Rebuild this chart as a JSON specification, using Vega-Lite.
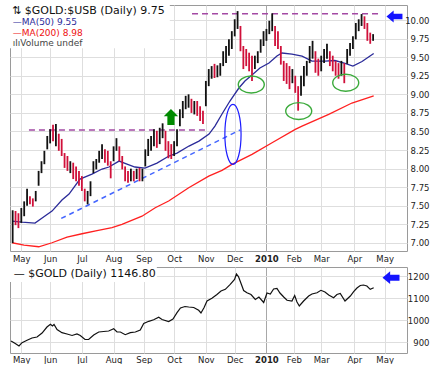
{
"$schema": "https://vega.github.io/schema/vega-lite/v6.json",
"padding": {"left": 8, "top": 4, "right": 0, "bottom": 0},
"background": "white",
"spacing": 3,
"config": {
 "view": {"stroke": "#9a9a9a", "strokeWidth": 1},
 "axis": {"labelFont": "DejaVu Sans", "labelFontSize": 8.5, "labelColor": "#222", "title": null, "ticks": false, "domain": false, "gridColor": "#dedede", "gridWidth": 1, "labelOverlap": false, "labelFlush": false}
},
"datasets": {
 "bars": [
  {"t":-6,"v":7.00,"v2":7.44,"dir":"up"},{"t":-4,"v":7.24,"v2":7.43,"dir":"down"},{"t":-2,"v":7.20,"v2":7.40,"dir":"down"},{"t":0,"v":7.27,"v2":7.47,"dir":"up"},{"t":2,"v":7.36,"v2":7.56,"dir":"up"},{"t":4,"v":7.50,"v2":7.73,"dir":"up"},{"t":6,"v":7.52,"v2":7.63,"dir":"down"},{"t":8,"v":7.49,"v2":7.60,"dir":"down"},{"t":10,"v":7.56,"v2":7.70,"dir":"up"},{"t":12,"v":7.77,"v2":7.97,"dir":"up"},
  {"t":14,"v":7.94,"v2":8.10,"dir":"up"},{"t":16,"v":8.06,"v2":8.24,"dir":"up"},{"t":18,"v":8.26,"v2":8.44,"dir":"up"},{"t":20,"v":8.34,"v2":8.53,"dir":"up"},{"t":22,"v":8.37,"v2":8.59,"dir":"down"},{"t":24,"v":8.30,"v2":8.60,"dir":"up"},{"t":26,"v":8.24,"v2":8.47,"dir":"down"},{"t":28,"v":8.17,"v2":8.40,"dir":"down"},{"t":30,"v":8.01,"v2":8.21,"dir":"down"},{"t":32,"v":7.97,"v2":8.17,"dir":"down"},
  {"t":34,"v":7.94,"v2":8.10,"dir":"up"},{"t":36,"v":7.86,"v2":8.08,"dir":"down"},{"t":38,"v":7.83,"v2":8.03,"dir":"down"},{"t":40,"v":7.77,"v2":7.97,"dir":"down"},{"t":42,"v":7.70,"v2":7.90,"dir":"down"},{"t":44,"v":7.56,"v2":7.73,"dir":"down"},{"t":46,"v":7.52,"v2":7.70,"dir":"up"},{"t":48,"v":7.63,"v2":7.83,"dir":"up"},{"t":50,"v":7.94,"v2":8.10,"dir":"up"},{"t":52,"v":7.99,"v2":8.13,"dir":"up"},
  {"t":54,"v":8.08,"v2":8.24,"dir":"up"},{"t":56,"v":8.13,"v2":8.33,"dir":"up"},{"t":58,"v":8.08,"v2":8.26,"dir":"down"},{"t":60,"v":8.04,"v2":8.24,"dir":"down"},{"t":62,"v":7.87,"v2":8.10,"dir":"down"},{"t":64,"v":8.10,"v2":8.30,"dir":"up"},{"t":66,"v":8.24,"v2":8.41,"dir":"up"},{"t":68,"v":8.10,"v2":8.30,"dir":"down"},{"t":70,"v":7.99,"v2":8.17,"dir":"down"},{"t":72,"v":7.83,"v2":8.03,"dir":"down"},
  {"t":74,"v":7.81,"v2":7.97,"dir":"down"},{"t":76,"v":7.83,"v2":8.00,"dir":"up"},{"t":78,"v":7.83,"v2":7.97,"dir":"down"},{"t":80,"v":7.86,"v2":8.00,"dir":"up"},{"t":82,"v":7.83,"v2":8.01,"dir":"down"},{"t":84,"v":7.83,"v2":8.00,"dir":"up"},{"t":86,"v":8.03,"v2":8.26,"dir":"up"},{"t":88,"v":8.17,"v2":8.40,"dir":"up"},{"t":90,"v":8.24,"v2":8.44,"dir":"up"},{"t":92,"v":8.30,"v2":8.53,"dir":"up"},
  {"t":94,"v":8.28,"v2":8.51,"dir":"down"},{"t":96,"v":8.33,"v2":8.55,"dir":"up"},{"t":98,"v":8.41,"v2":8.61,"dir":"up"},{"t":100,"v":8.24,"v2":8.51,"dir":"down"},{"t":102,"v":8.14,"v2":8.37,"dir":"down"},{"t":104,"v":8.13,"v2":8.33,"dir":"down"},{"t":106,"v":8.17,"v2":8.37,"dir":"up"},{"t":108,"v":8.30,"v2":8.53,"dir":"up"},{"t":110,"v":8.57,"v2":8.80,"dir":"up"},{"t":112,"v":8.68,"v2":8.91,"dir":"up"},
  {"t":114,"v":8.80,"v2":8.98,"dir":"up"},{"t":116,"v":8.82,"v2":9.00,"dir":"up"},{"t":118,"v":8.75,"v2":8.94,"dir":"down"},{"t":120,"v":8.73,"v2":8.91,"dir":"up"},{"t":122,"v":8.71,"v2":8.91,"dir":"down"},{"t":124,"v":8.64,"v2":8.84,"dir":"down"},{"t":126,"v":8.60,"v2":8.78,"dir":"down"},{"t":128,"v":8.84,"v2":9.18,"dir":"up"},{"t":130,"v":9.11,"v2":9.34,"dir":"up"},{"t":132,"v":9.21,"v2":9.38,"dir":"up"},
  {"t":134,"v":9.22,"v2":9.41,"dir":"down"},{"t":136,"v":9.23,"v2":9.39,"dir":"up"},{"t":138,"v":9.25,"v2":9.42,"dir":"up"},{"t":140,"v":9.38,"v2":9.58,"dir":"up"},{"t":142,"v":9.42,"v2":9.65,"dir":"up"},{"t":144,"v":9.52,"v2":9.74,"dir":"up"},{"t":146,"v":9.61,"v2":9.85,"dir":"up"},{"t":148,"v":9.78,"v2":10.01,"dir":"up"},{"t":150,"v":9.88,"v2":10.12,"dir":"up"},{"t":152,"v":9.58,"v2":9.92,"dir":"down"},
  {"t":154,"v":9.34,"v2":9.65,"dir":"down"},{"t":156,"v":9.38,"v2":9.61,"dir":"down"},{"t":158,"v":9.31,"v2":9.56,"dir":"down"},{"t":160,"v":9.18,"v2":9.52,"dir":"down"},{"t":162,"v":9.34,"v2":9.52,"dir":"up"},{"t":164,"v":9.42,"v2":9.58,"dir":"up"},{"t":166,"v":9.56,"v2":9.74,"dir":"up"},{"t":168,"v":9.65,"v2":9.85,"dir":"up"},{"t":170,"v":9.72,"v2":9.88,"dir":"up"},{"t":172,"v":9.81,"v2":9.99,"dir":"up"},
  {"t":174,"v":9.85,"v2":10.09,"dir":"up"},{"t":176,"v":9.65,"v2":9.92,"dir":"down"},{"t":178,"v":9.61,"v2":9.85,"dir":"down"},{"t":180,"v":9.40,"v2":9.65,"dir":"down"},{"t":182,"v":9.18,"v2":9.45,"dir":"down"},{"t":184,"v":9.14,"v2":9.42,"dir":"down"},{"t":186,"v":9.07,"v2":9.38,"dir":"down"},{"t":188,"v":9.15,"v2":9.34,"dir":"up"},{"t":190,"v":9.02,"v2":9.25,"dir":"down"},{"t":192,"v":8.78,"v2":9.11,"dir":"down"},
  {"t":194,"v":8.98,"v2":9.25,"dir":"up"},{"t":196,"v":9.11,"v2":9.38,"dir":"up"},{"t":198,"v":9.25,"v2":9.45,"dir":"up"},{"t":200,"v":9.42,"v2":9.65,"dir":"up"},{"t":202,"v":9.48,"v2":9.72,"dir":"up"},{"t":204,"v":9.29,"v2":9.58,"dir":"down"},{"t":206,"v":9.25,"v2":9.48,"dir":"down"},{"t":208,"v":9.31,"v2":9.52,"dir":"up"},{"t":210,"v":9.42,"v2":9.61,"dir":"up"},{"t":212,"v":9.48,"v2":9.68,"dir":"up"},
  {"t":214,"v":9.38,"v2":9.58,"dir":"down"},{"t":216,"v":9.31,"v2":9.52,"dir":"down"},{"t":218,"v":9.25,"v2":9.45,"dir":"down"},{"t":220,"v":9.21,"v2":9.42,"dir":"down"},{"t":222,"v":9.25,"v2":9.45,"dir":"up"},{"t":224,"v":9.15,"v2":9.42,"dir":"down"},{"t":226,"v":9.41,"v2":9.61,"dir":"up"},{"t":228,"v":9.52,"v2":9.69,"dir":"up"},{"t":230,"v":9.61,"v2":9.78,"dir":"up"},{"t":232,"v":9.74,"v2":9.96,"dir":"up"},
  {"t":234,"v":9.85,"v2":10.01,"dir":"up"},{"t":236,"v":9.92,"v2":10.08,"dir":"up"},{"t":238,"v":9.88,"v2":10.05,"dir":"down"},{"t":240,"v":9.72,"v2":9.96,"dir":"down"},{"t":242,"v":9.68,"v2":9.83,"dir":"down"},{"t":244,"v":9.72,"v2":9.81,"dir":"up"}
 ],
 "ma50": [
  {"t":-6.4,"v":7.295},{"t":0.5,"v":7.281},{"t":9.5,"v":7.268},{"t":16.4,"v":7.362},{"t":21.3,"v":7.429},{"t":28.2,"v":7.577},{"t":33.1,"v":7.658},{"t":40.7,"v":7.86},{"t":49.0,"v":7.927},{"t":56.0,"v":7.995},{"t":60.8,"v":8.022},{"t":67.8,"v":8.102},{"t":73.3,"v":8.062},{"t":78.8,"v":8.022},{"t":85.8,"v":8.008},{"t":94.1,"v":8.075},{"t":102.4,"v":8.17},{"t":108.0,"v":8.21},{"t":116.3,"v":8.304},{"t":123.2,"v":8.371},{"t":130.2,"v":8.466},{"t":134.3,"v":8.573},{"t":139.2,"v":8.735},{"t":144.7,"v":8.91},{"t":150.9,"v":9.085},{"t":155.1,"v":9.179},{"t":160.0,"v":9.26},{"t":165.5,"v":9.354},{"t":171.8,"v":9.421},{"t":177.3,"v":9.515},{"t":180.8,"v":9.556},{"t":187.7,"v":9.542},{"t":194.7,"v":9.515},{"t":201.6,"v":9.448},{"t":210.6,"v":9.448},{"t":217.5,"v":9.455},{"t":224.5,"v":9.415},{"t":230.0,"v":9.381},{"t":236.3,"v":9.441},{"t":244.4,"v":9.55}
 ],
 "ma200": [
  {"t":-6.4,"v":7.003},{"t":1.9,"v":6.972},{"t":12.1,"v":6.949},{"t":21.3,"v":7.003},{"t":31.7,"v":7.079},{"t":42.1,"v":7.124},{"t":52.5,"v":7.167},{"t":62.9,"v":7.205},{"t":69.8,"v":7.25},{"t":83.7,"v":7.36},{"t":92.9,"v":7.474},{"t":102.2,"v":7.564},{"t":116.1,"v":7.743},{"t":130.0,"v":7.9},{"t":139.2,"v":7.977},{"t":146.1,"v":8.058},{"t":160.0,"v":8.193},{"t":173.9,"v":8.349},{"t":190.0,"v":8.529},{"t":194.7,"v":8.573},{"t":213.2,"v":8.731},{"t":229.3,"v":8.883},{"t":244.4,"v":8.98}
 ],
 "gold": [
  {"t":-7.1,"v":904.6},{"t":-4.2,"v":893.2},{"t":-1.6,"v":881.8},{"t":0.5,"v":896.8},{"t":4.0,"v":907.8},{"t":7.4,"v":918.2},{"t":10.9,"v":922.8},{"t":14.4,"v":940.9},{"t":17.8,"v":968.2},{"t":20.2,"v":980.5},{"t":21.6,"v":972.7},{"t":22.7,"v":979.6},{"t":24.8,"v":956.8},{"t":28.2,"v":942.3},{"t":31.7,"v":936.4},{"t":35.2,"v":929.6},{"t":38.6,"v":936.4},{"t":40.9,"v":929.6},{"t":44.2,"v":911.4},{"t":46.7,"v":911.4},{"t":50.2,"v":931.8},{"t":53.7,"v":945.5},{"t":57.1,"v":947.8},{"t":60.6,"v":950.0},{"t":64.1,"v":960.0},{"t":66.4,"v":945.5},{"t":68.7,"v":945.5},{"t":72.1,"v":933.2},{"t":75.6,"v":942.3},{"t":79.1,"v":945.5},{"t":82.5,"v":954.6},{"t":84.9,"v":984.1},{"t":88.4,"v":994.1},{"t":91.8,"v":1000.9},{"t":95.3,"v":1012.3},{"t":97.6,"v":1002.3},{"t":102.2,"v":993.2},{"t":105.2,"v":1004.6},{"t":108.0,"v":1033.2},{"t":110.4,"v":1054.6},{"t":113.5,"v":1061.4},{"t":116.1,"v":1059.1},{"t":119.6,"v":1056.8},{"t":123.0,"v":1044.1},{"t":124.6,"v":1031.8},{"t":126.7,"v":1055.9},{"t":128.8,"v":1086.4},{"t":132.2,"v":1098.6},{"t":135.7,"v":1115.9},{"t":138.5,"v":1131.8},{"t":141.5,"v":1139.5},{"t":144.9,"v":1162.3},{"t":147.9,"v":1184.1},{"t":149.2,"v":1209.1},{"t":150.6,"v":1197.7},{"t":152.6,"v":1162.3},{"t":154.2,"v":1134.1},{"t":156.5,"v":1124.1},{"t":159.3,"v":1115.9},{"t":162.3,"v":1093.2},{"t":164.8,"v":1104.6},{"t":168.1,"v":1079.6},{"t":170.4,"v":1122.7},{"t":172.7,"v":1118.2},{"t":175.0,"v":1140.9},{"t":177.3,"v":1143.2},{"t":179.4,"v":1122.7},{"t":182.0,"v":1104.6},{"t":184.3,"v":1089.6},{"t":187.7,"v":1086.4},{"t":189.6,"v":1111.4},{"t":191.2,"v":1081.8},{"t":192.8,"v":1063.7},{"t":195.8,"v":1086.4},{"t":199.3,"v":1109.1},{"t":201.6,"v":1118.2},{"t":205.1,"v":1124.1},{"t":207.8,"v":1135.0},{"t":210.6,"v":1127.3},{"t":213.2,"v":1113.6},{"t":216.6,"v":1101.4},{"t":218.9,"v":1115.9},{"t":221.2,"v":1120.5},{"t":224.5,"v":1086.4},{"t":228.2,"v":1109.1},{"t":230.5,"v":1128.6},{"t":232.8,"v":1145.5},{"t":235.1,"v":1156.8},{"t":237.3,"v":1159.1},{"t":239.7,"v":1154.6},{"t":242.0,"v":1139.5},{"t":244.4,"v":1146.8}
 ]
},
"vconcat": [
 {
  "width": 397, "height": 246,
  "encoding": {
   "x": {"field": "t", "type": "quantitative", "scale": {"domain": [-7.84, 267.5], "nice": false, "zero": false},
    "axis": {"values": [0,20,42,64,85,106,128,148,170,189,208,231,252],
     "labelExpr": "datum.value == 0 ? 'May' : datum.value == 20 ? 'Jun' : datum.value == 42 ? 'Jul' : datum.value == 64 ? 'Aug' : datum.value == 85 ? 'Sep' : datum.value == 106 ? 'Oct' : datum.value == 128 ? 'Nov' : datum.value == 148 ? 'Dec' : datum.value == 170 ? '2010' : datum.value == 189 ? 'Feb' : datum.value == 208 ? 'Mar' : datum.value == 231 ? 'Apr' : 'May'",
     "labelFontWeight": {"condition": {"test": "datum.value == 170", "value": "bold"}, "value": "normal"},
     "gridColor": {"condition": {"test": "datum.value == 170", "value": "#a8a8a8"}, "value": "#dedede"},
     "labelPadding": 3}},
   "y": {"field": "v", "type": "quantitative", "scale": {"domain": [6.892, 10.202], "nice": false, "zero": false},
    "axis": {"orient": "right", "values": [7,7.25,7.5,7.75,8,8.25,8.5,8.75,9,9.25,9.5,9.75,10], "format": ".2f", "labelAlign": "right", "labelPadding": 22}}
  },
  "layer": [
   {"data": {"values": [{"t": -7.84, "t2": 103, "v": 10.202, "v2": 9.62}]}, "mark": {"type": "rect", "fill": "white"}, "encoding": {"x2": {"field": "t2"}, "y2": {"field": "v2"}}},
   {"data": {"values": [{"t": 5.3, "t2": 128.8, "v": 8.52}, {"t": 118.4, "t2": 250.1, "v": 10.085}]}, "mark": {"type": "rule", "color": "#a349a4", "strokeWidth": 1.5, "strokeDash": [6, 4]}, "encoding": {"x2": {"field": "t2"}}},
   {"data": {"values": [{"t": 27.7, "t2": 151.7, "v": 7.33, "v2": 8.52}]}, "mark": {"type": "rule", "color": "#4466ff", "strokeWidth": 1.5, "strokeDash": [5, 4]}, "encoding": {"x2": {"field": "t2"}, "y2": {"field": "v2"}}},
   {"data": {"name": "ma200"}, "mark": {"type": "line", "color": "#ff2020", "strokeWidth": 1.3}, "encoding": {}},
   {"data": {"name": "ma50"}, "mark": {"type": "line", "color": "#2b2b99", "strokeWidth": 1.3}, "encoding": {}},
   {"data": {"name": "bars"}, "mark": {"type": "rule", "strokeWidth": 1.8}, "encoding": {"y2": {"field": "v2"}, "color": {"field": "dir", "type": "nominal", "scale": {"domain": ["up", "down"], "range": ["#111111", "#d0103a"]}, "legend": null}}},
   {"data": {"values": [{"t": 146.8, "v": 8.462}]}, "mark": {"type": "point", "shape": "M0,-1A0.27,1 0 1,0 0,1A0.27,1 0 1,0 0,-1Z", "size": 3600, "filled": false, "color": "#1a1aff", "strokeWidth": 1.2, "opacity": 1}, "encoding": {}},
   {"data": {"values": [{"t": 159.5, "v": 9.132}, {"t": 192.4, "v": 8.775}, {"t": 225.0, "v": 9.156}]}, "mark": {"type": "point", "shape": "M-1,0A1,0.65 0 1,0 1,0A1,0.65 0 1,0 -1,0Z", "size": 676, "filled": false, "color": "#3aaa3a", "strokeWidth": 1.4, "opacity": 1}, "encoding": {}},
   {"data": {"values": [{"t": 103.8, "v": 8.695}]}, "mark": {"type": "point", "shape": "M0,-1L0.9,-0.1L0.45,-0.1L0.45,1L-0.45,1L-0.45,-0.1L-0.9,-0.1Z", "size": 256, "filled": true, "color": "#008a00", "opacity": 1}, "encoding": {}},
   {"data": {"values": [{"t": 258.8, "v": 10.047}]}, "mark": {"type": "point", "shape": "M-1,0L-0.1,-0.75L-0.1,-0.35L1,-0.35L1,0.35L-0.1,0.35L-0.1,0.75Z", "size": 256, "filled": true, "color": "#1414ff", "opacity": 1}, "encoding": {}},
   {"data": {"values": [{"t": -6.45, "v": 10.121, "s": "⇅ $GOLD:$USB (Daily) 9.75"}]}, "mark": {"type": "text", "align": "left", "baseline": "middle", "font": "DejaVu Sans", "fontSize": 11, "color": "#111"}, "encoding": {"text": {"field": "s"}}},
   {"data": {"values": [{"t": -5.96, "v": 9.977, "s": "—MA(50) 9.55"}]}, "mark": {"type": "text", "align": "left", "baseline": "middle", "font": "DejaVu Sans", "fontSize": 9, "color": "#2b2b99"}, "encoding": {"text": {"field": "s"}}},
   {"data": {"values": [{"t": -5.96, "v": 9.821, "s": "—MA(200) 8.98"}]}, "mark": {"type": "text", "align": "left", "baseline": "middle", "font": "DejaVu Sans", "fontSize": 9, "color": "#ee1111"}, "encoding": {"text": {"field": "s"}}},
   {"data": {"values": [{"t": -5.96, "v": 9.686, "s": "ılıVolume undef"}]}, "mark": {"type": "text", "align": "left", "baseline": "middle", "font": "DejaVu Sans", "fontSize": 9, "color": "#444"}, "encoding": {"text": {"field": "s"}}}
  ]
 },
 {
  "width": 397, "height": 86,
  "encoding": {
   "x": {"field": "t", "type": "quantitative", "scale": {"domain": [-7.84, 267.5], "nice": false, "zero": false},
    "axis": {"values": [0,20,42,64,85,106,128,148,170,189,208,231,252],
     "labelExpr": "datum.value == 0 ? 'May' : datum.value == 20 ? 'Jun' : datum.value == 42 ? 'Jul' : datum.value == 64 ? 'Aug' : datum.value == 85 ? 'Sep' : datum.value == 106 ? 'Oct' : datum.value == 128 ? 'Nov' : datum.value == 148 ? 'Dec' : datum.value == 170 ? '2010' : datum.value == 189 ? 'Feb' : datum.value == 208 ? 'Mar' : datum.value == 231 ? 'Apr' : 'May'",
     "labelFontWeight": {"condition": {"test": "datum.value == 170", "value": "bold"}, "value": "normal"},
     "gridColor": {"condition": {"test": "datum.value == 170", "value": "#a8a8a8"}, "value": "#dedede"},
     "labelPadding": 2}},
   "y": {"field": "v", "type": "quantitative", "scale": {"domain": [850, 1241], "nice": false, "zero": false},
    "axis": {"orient": "right", "values": [900, 1000, 1100, 1200], "format": "d", "labelAlign": "right", "labelPadding": 22}}
  },
  "layer": [
   {"data": {"values": [{"t": -7.84, "t2": 94, "v": 1241, "v2": 1173}]}, "mark": {"type": "rect", "fill": "white"}, "encoding": {"x2": {"field": "t2"}, "y2": {"field": "v2"}}},
   {"data": {"name": "gold"}, "mark": {"type": "line", "color": "#111", "strokeWidth": 1.2}, "encoding": {}},
   {"data": {"values": [{"t": -5.3, "v": 1209.1, "s": "— $GOLD (Daily) 1146.80"}]}, "mark": {"type": "text", "align": "left", "baseline": "middle", "font": "DejaVu Sans", "fontSize": 11, "color": "#111"}, "encoding": {"text": {"field": "s"}}},
   {"data": {"values": [{"t": 256.4, "v": 1192.3}]}, "mark": {"type": "point", "shape": "M-1,0L-0.1,-0.75L-0.1,-0.35L1,-0.35L1,0.35L-0.1,0.35L-0.1,0.75Z", "size": 289, "filled": true, "color": "#1414ff", "opacity": 1}, "encoding": {}}
  ]
 }
]
}
